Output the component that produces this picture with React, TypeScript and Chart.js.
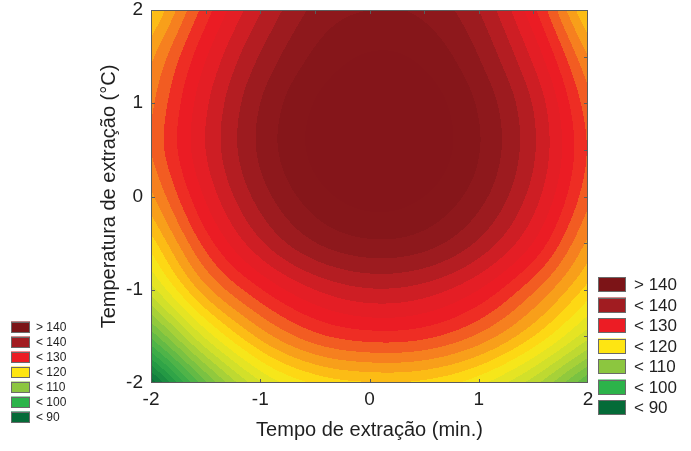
import React, { useEffect, useRef } from "react";
import { Chart, registerables } from "chart.js";

Chart.register(...registerables);

// Coded levels of the two factors where the fitted response is tabulated
const timeLevels = [-2, -1.5, -1, -0.5, 0, 0.5, 1, 1.5, 2];
const tempLevels = [2, 1.5, 1, 0.5, 0, -0.5, -1, -1.5, -2];

// Fitted response along timeLevels, one array per temperature level
const respT2 = [119.5, 129.0, 135.8, 140.5, 142.0, 141.5, 138.0, 130.5, 119.5];
const respT15 = [123.5, 131.8, 138.2, 142.4, 144.2, 143.5, 140.0, 133.5, 124.0];
const respT1 = [125.5, 133.6, 140.0, 144.1, 145.8, 145.1, 141.7, 135.8, 126.8];
const respT05 = [126.0, 134.0, 140.4, 144.5, 146.2, 145.4, 142.1, 136.3, 127.8];
const respT0 = [123.5, 132.3, 138.9, 143.1, 144.8, 144.0, 140.8, 135.0, 126.6];
const respTm05 = [119.0, 128.8, 135.6, 139.9, 141.6, 140.9, 137.6, 131.9, 123.5];
const respTm1 = [113.0, 123.2, 129.8, 134.0, 135.8, 135.1, 132.0, 126.4, 119.2];
const respTm15 = [102.5, 114.5, 122.6, 127.3, 129.0, 128.5, 125.5, 120.0, 112.6];
const respTm2 = [88.5, 103.5, 113.6, 118.3, 119.8, 119.4, 116.6, 110.8, 102.0];

const axisTicks = [-2, -1, 0, 1, 2];
const minorTicks = [-1.5, -1, -0.5, 0, 0.5, 1, 1.5];

const legendLabels = ["> 140", "< 140", "< 130", "< 120", "< 110", "< 100", "< 90"];
const legendColors = ["#7c1417", "#a11c21", "#ec1c24", "#fee512", "#8cc63f", "#2cb34a", "#056b38"];

// Colour ramp for the contour bands
const rampLevels = [
  88, 92, 96, 100, 104, 108, 112, 116, 118, 120, 122, 124, 126, 127.5, 129, 130, 132.5, 134, 135.5, 137,
  138.5, 140, 141.5, 143, 146,
];
const rampColors = [
  "#086a39", "#16853f", "#29a046", "#44b049", "#6fbe44", "#9ccd3b", "#c9dd2e", "#eee71f",
  "#fde516", "#fdcb12", "#faae18", "#f7901d", "#f46f21", "#f15323", "#ee2d24", "#ed1c24",
  "#e91d25", "#db1f25", "#c81e23", "#b41d22", "#a21b1f", "#941a1e", "#8b171b", "#86161a", "#85151a",
];
const bandWidth = 2;

const FONT = "'Liberation Sans', Arial, sans-serif";
const TEXT = "#1f1f1f";

const grid = [respT2, respT15, respT1, respT05, respT0, respTm05, respTm1, respTm15, respTm2];

function hexToRgb(h: string): number[] {
  const n = parseInt(h.slice(1), 16);
  return [(n >> 16) & 255, (n >> 8) & 255, n & 255];
}
const rampRgb = rampColors.map(hexToRgb);

function rampColor(v: number): number[] {
  if (v <= rampLevels[0]) return rampRgb[0];
  const last = rampLevels.length - 1;
  if (v >= rampLevels[last]) return rampRgb[last];
  let k = 0;
  while (rampLevels[k + 1] < v) k++;
  const t = (v - rampLevels[k]) / (rampLevels[k + 1] - rampLevels[k]);
  const a = rampRgb[k], b = rampRgb[k + 1];
  return [0, 1, 2].map((i) => a[i] + (b[i] - a[i]) * t);
}

// grid value with linear extrapolation beyond the edges
function node(r: number, c: number): number {
  const nr = grid.length, nc = grid[0].length;
  if (r < 0) return 2 * node(0, c) - node(1, c);
  if (r > nr - 1) return 2 * node(nr - 1, c) - node(nr - 2, c);
  if (c < 0) return 2 * node(r, 0) - node(r, 1);
  if (c > nc - 1) return 2 * node(r, nc - 1) - node(r, nc - 2);
  return grid[r][c];
}

function cubic(p0: number, p1: number, p2: number, p3: number, t: number): number {
  return 0.5 * (2 * p1 + (-p0 + p2) * t + (2 * p0 - 5 * p1 + 4 * p2 - p3) * t * t + (-p0 + 3 * p1 - 3 * p2 + p3) * t * t * t);
}

function surfaceAt(x: number, y: number): number {
  const step = timeLevels[1] - timeLevels[0];
  const gx = Math.min(Math.max((x - timeLevels[0]) / step, 0), timeLevels.length - 1.000001);
  const gy = Math.min(Math.max((tempLevels[0] - y) / step, 0), tempLevels.length - 1.000001);
  const c = Math.floor(gx), r = Math.floor(gy);
  const tx = gx - c, ty = gy - r;
  const rows: number[] = [];
  for (let k = -1; k <= 2; k++) {
    rows.push(cubic(node(r + k, c - 1), node(r + k, c), node(r + k, c + 1), node(r + k, c + 2), tx));
  }
  return cubic(rows[0], rows[1], rows[2], rows[3], ty);
}

const surfacePlugin = {
  id: "surface",
  beforeDatasetsDraw(chart: any) {
    const { ctx, chartArea, scales } = chart;
    const left = Math.round(chartArea.left);
    const top = Math.round(chartArea.top);
    const w = Math.round(chartArea.right) - left;
    const h = Math.round(chartArea.bottom) - top;
    const off = document.createElement("canvas");
    off.width = w;
    off.height = h;
    const octx = off.getContext("2d")!;
    const img = octx.createImageData(w, h);
    const xs: number[] = [];
    const ys: number[] = [];
    for (let i = 0; i < w; i++) xs.push(scales.x.getValueForPixel(left + i + 0.5));
    for (let j = 0; j < h; j++) ys.push(scales.y.getValueForPixel(top + j + 0.5));
    for (let j = 0; j < h; j++) {
      for (let i = 0; i < w; i++) {
        const v = surfaceAt(xs[i], ys[j]);
        const band = Math.floor(v / bandWidth) * bandWidth + bandWidth / 2;
        const col = rampColor(band);
        const p = (j * w + i) * 4;
        img.data[p] = col[0];
        img.data[p + 1] = col[1];
        img.data[p + 2] = col[2];
        img.data[p + 3] = 255;
      }
    }
    octx.putImageData(img, 0, 0);
    ctx.drawImage(off, left, top);
  },
};

function drawLegend(ctx: CanvasRenderingContext2D, x: number, y0: number, sw: number, sh: number, gap: number, font: number, tx: number) {
  ctx.save();
  ctx.font = `${font}px ${FONT}`;
  ctx.textBaseline = "middle";
  ctx.textAlign = "left";
  legendLabels.forEach((lab, k) => {
    const cy = y0 + k * gap;
    ctx.fillStyle = legendColors[k];
    ctx.fillRect(x, cy - sh / 2, sw, sh);
    ctx.strokeStyle = "#6a6a6a";
    ctx.lineWidth = 1;
    ctx.strokeRect(x + 0.5, Math.round(cy - sh / 2) + 0.5, sw - 1, sh - 1);
    ctx.fillStyle = TEXT;
    ctx.fillText(lab, tx, cy + 1);
  });
  ctx.restore();
}

const framePlugin = {
  id: "frame",
  afterDatasetsDraw(chart: any) {
    const { ctx, chartArea, scales } = chart;
    const { left, right, top, bottom } = chartArea;
    ctx.save();
    ctx.strokeStyle = "#5c5c5c";
    ctx.lineWidth = 1;
    ctx.strokeRect(left + 0.5, top + 0.5, right - left - 1, bottom - top - 1);
    ctx.beginPath();
    const len = 4;
    axisTicks.slice(1, -1).forEach((v) => {
      const px = Math.round(scales.x.getPixelForValue(v)) + 0.5;
      ctx.moveTo(px, bottom);
      ctx.lineTo(px, bottom - len);
      const py = Math.round(scales.y.getPixelForValue(v)) + 0.5;
      ctx.moveTo(left, py);
      ctx.lineTo(left + len, py);
    });
    minorTicks.forEach((v) => {
      const px = Math.round(scales.x.getPixelForValue(v)) + 0.5;
      ctx.moveTo(px, top);
      ctx.lineTo(px, top + len);
      const py = Math.round(scales.y.getPixelForValue(v)) + 0.5;
      ctx.moveTo(right, py);
      ctx.lineTo(right - len, py);
    });
    ctx.stroke();
    ctx.restore();
  },
  afterDraw(chart: any) {
    const ctx = chart.ctx;
    drawLegend(ctx, 598, 284.5, 28, 15, 20.5, 17, 634);
    drawLegend(ctx, 11, 327, 19, 11, 15, 12, 36);
  },
};

export default function App() {
  const canvasRef = useRef<HTMLCanvasElement | null>(null);

  useEffect(() => {
    if (!canvasRef.current) return;
    const tickFont = { family: FONT, size: 19 };
    const titleFont = { family: FONT, size: 20 };
    const chart = new Chart(canvasRef.current, {
      type: "scatter",
      data: { datasets: [] },
      options: {
        animation: false,
        responsive: true,
        maintainAspectRatio: false,
        layout: { padding: { left: 97, top: 10, right: 103, bottom: 0 } },
        plugins: { legend: { display: false }, tooltip: { enabled: false } },
        scales: {
          x: {
            type: "linear",
            min: -2,
            max: 2,
            afterBuildTicks: (s: any) => {
              s.ticks = axisTicks.map((v) => ({ value: v }));
            },
            afterFit: (s: any) => {
              s.height = 68;
              s.paddingLeft = 0;
              s.paddingRight = 0;
            },
            ticks: { font: tickFont, color: TEXT, padding: 5, autoSkip: false, maxRotation: 0 },
            grid: { display: false, drawTicks: false },
            border: { display: false },
            title: {
              display: true,
              text: "Tempo de extração (min.)",
              font: titleFont,
              color: TEXT,
              padding: { top: 0, bottom: 9 },
            },
          },
          y: {
            type: "linear",
            min: -2,
            max: 2,
            afterBuildTicks: (s: any) => {
              s.ticks = axisTicks.map((v) => ({ value: v }));
            },
            afterFit: (s: any) => {
              s.width = 54;
              s.paddingTop = 0;
              s.paddingBottom = 0;
            },
            ticks: { font: tickFont, color: TEXT, padding: 8, autoSkip: false },
            grid: { display: false, drawTicks: false },
            border: { display: false },
            title: {
              display: true,
              text: "Temperatura de extração (°C)",
              font: titleFont,
              color: TEXT,
              padding: { top: 0, bottom: 0 },
            },
          },
        },
      } as any,
      plugins: [surfacePlugin, framePlugin],
    });
    return () => chart.destroy();
  }, []);

  return (
    <div style={{ position: "absolute", left: 0, top: 0, width: 691, height: 451, background: "#fff" }}>
      <canvas ref={canvasRef} />
    </div>
  );
}
